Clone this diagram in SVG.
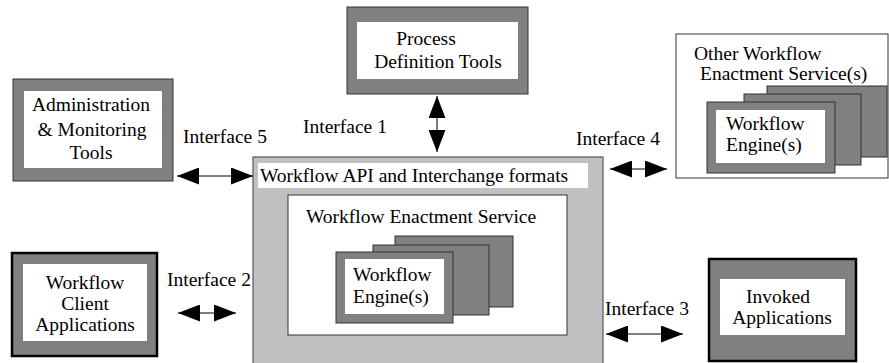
<svg xmlns="http://www.w3.org/2000/svg" width="889" height="363" viewBox="0 0 889 363" font-family="'Liberation Serif','Times New Roman',serif">
<style>
text{font-family:"Liberation Serif","Times New Roman",serif;font-size:19.5px;fill:#000}
.c{text-anchor:middle}
.g{fill:#808080;stroke:#333;stroke-width:1}
.gt{fill:#808080;stroke:#000;stroke-width:2.5}
.w{fill:#fff;stroke:none}
.wb{fill:#fff;stroke:#333;stroke-width:1}
.lg{fill:#c0c0c0;stroke:#555;stroke-width:1.2}
.ar{stroke:#000;stroke-width:1;fill:none;marker-start:url(#h);marker-end:url(#h)}
</style>
<defs>
<marker id="h" markerUnits="userSpaceOnUse" viewBox="0 0 22 17" markerWidth="22" markerHeight="17" refX="22" refY="8.5" orient="auto-start-reverse">
<path d="M0,0 L22,8.5 L0,17 Z" fill="#000"/>
</marker>
</defs>
<rect width="889" height="363" fill="#fff"/>
<g id="admin">
<rect class="g" x="13" y="79" width="160" height="102"/>
<rect class="w" x="24" y="91" width="138" height="77"/>
<text class="c" x="91" y="111">Administration</text>
<text class="c" x="92" y="136">&amp; Monitoring</text>
<text class="c" x="91" y="159">Tools</text>
</g>
<g id="process">
<rect class="g" x="347" y="7" width="181" height="87"/>
<rect class="w" x="357" y="22" width="161" height="57"/>
<text class="c" x="426" y="45">Process</text>
<text class="c" x="438" y="68">Definition Tools</text>
</g>
<g id="other">
<rect class="wb" x="676" y="34" width="212" height="144"/>
<text x="694" y="60">Other Workflow</text>
<text x="700" y="80">Enactment Service(s)</text>
<rect class="g" x="767" y="86" width="120" height="71"/>
<rect class="g" x="744" y="94" width="117" height="71"/>
<rect class="g" x="707" y="102" width="128" height="71"/>
<rect class="w" x="716" y="110" width="109" height="53"/>
<text x="726" y="130">Workflow</text>
<text x="726" y="151">Engine(s)</text>
</g>
<g id="api">
<rect class="lg" x="253" y="157" width="350" height="210"/>
<rect class="w" x="258" y="163" width="330" height="25"/>
<text x="260" y="182">Workflow API and Interchange formats</text>
</g>
<g id="enactment">
<rect class="wb" x="288" y="195" width="279" height="140"/>
<text x="306" y="223">Workflow Enactment Service</text>
<rect class="g" x="395" y="236" width="118" height="71"/>
<rect class="g" x="373" y="245" width="116" height="70"/>
<rect class="g" x="336" y="252" width="117" height="71"/>
<rect class="w" x="345" y="259" width="99" height="55"/>
<text x="353" y="281">Workflow</text>
<text x="353" y="303">Engine(s)</text>
</g>
<g id="client">
<rect class="gt" x="12" y="253" width="145" height="103"/>
<rect class="w" x="23" y="264" width="124" height="77"/>
<text class="c" x="85" y="289">Workflow</text>
<text class="c" x="85" y="310">Client</text>
<text class="c" x="85" y="331">Applications</text>
</g>
<g id="invoked">
<rect class="gt" x="709" y="259" width="147" height="102"/>
<rect class="w" x="720" y="279" width="125" height="56"/>
<text class="c" x="778" y="303">Invoked</text>
<text class="c" x="782" y="324">Applications</text>
</g>
<g id="connectors">
<line class="ar" x1="177" y1="176" x2="253" y2="176"/>
<line class="ar" x1="437" y1="96" x2="437" y2="152"/>
<line class="ar" x1="610" y1="169" x2="667" y2="169"/>
<line class="ar" x1="178" y1="313" x2="236" y2="313"/>
<line class="ar" x1="606" y1="334" x2="683" y2="334"/>
<text x="183" y="143">Interface 5</text>
<text x="303" y="133">Interface 1</text>
<text x="576" y="145">Interface 4</text>
<text x="167" y="286">Interface 2</text>
<text x="605" y="315">Interface 3</text>
</g>
</svg>
